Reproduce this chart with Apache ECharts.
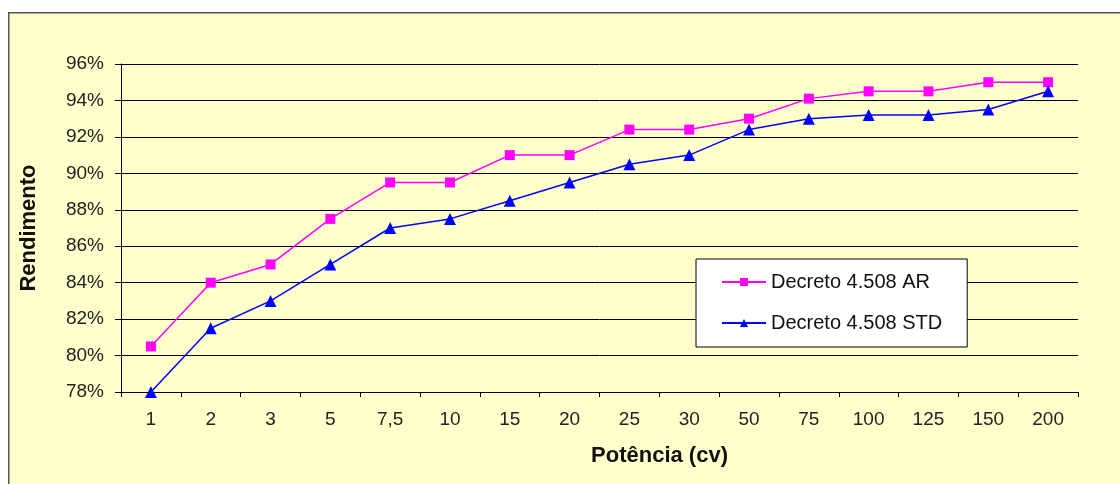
<!DOCTYPE html>
<html><head><meta charset="utf-8">
<script src="https://cdn.jsdelivr.net/npm/echarts@6/dist/echarts.min.js"></script>
<style>html,body{margin:0;padding:0;background:#fff}#c{width:1120px;height:484px}</style>
</head><body><div id="c"></div>
<script>
const categories = ['1','2','3','5','7,5','10','15','20','25','30','50','75','100','125','150','200'];
const seriesAR = [80.5,84,85,87.5,89.5,89.5,91,91,92.4,92.4,93,94.1,94.5,94.5,95,95];
const seriesSTD = [78,81.5,83,85,87,87.5,88.5,89.5,90.5,91,92.4,93,93.2,93.2,93.5,94.5];
const seriesNames = ['Decreto 4.508 AR','Decreto 4.508 STD'];
const yTicks = {min:78, max:96, interval:2};

const chart = echarts.init(document.getElementById('c'), null, {renderer:'canvas'});
const font = 'Liberation Sans, Arial, sans-serif';
chart.setOption({
  backgroundColor:'#fff',
  animation:false,
  graphic:[{type:'rect', left:8, top:12, shape:{width:1130,height:490}, style:{fill:'#FFFFCC', stroke:'#555', lineWidth:1.5}, z:-10}],
  grid:{left:121, right:42, top:64, bottom:92, containLabel:false},
  legend:{
    orient:'vertical', left:696, top:259,
    backgroundColor:'#fff', borderColor:'#000', borderWidth:1,
    padding:[13,25,14,25], itemGap:21, itemWidth:44, itemHeight:10,
    textStyle:{fontFamily:font, fontSize:20, color:'#111'},
    data:seriesNames
  },
  xAxis:{
    type:'category', data:categories, boundaryGap:true,
    name:'Potência (cv)', nameLocation:'middle', nameGap:53,
    nameTextStyle:{fontFamily:font, fontSize:22, fontWeight:'bold', color:'#111', padding:[0,0,0,120]},
    axisLine:{lineStyle:{color:'#000', width:1}},
    axisTick:{show:true, alignWithLabel:false, length:5, lineStyle:{color:'#000'}},
    axisLabel:{fontFamily:font, fontSize:19, color:'#222', margin:18, interval:0},
    splitLine:{show:false}
  },
  yAxis:{
    type:'value', min:yTicks.min, max:yTicks.max, interval:yTicks.interval,
    name:'Rendimento', nameLocation:'middle', nameGap:81, nameRotate:90,
    nameTextStyle:{fontFamily:font, fontSize:22, fontWeight:'bold', color:'#111'},
    axisLine:{show:true, lineStyle:{color:'#000', width:1}},
    axisTick:{show:true, length:6, lineStyle:{color:'#000'}},
    axisLabel:{fontFamily:font, fontSize:19, color:'#222', margin:17, formatter:v=>v+'%'},
    splitLine:{show:true, lineStyle:{color:'#000', width:1}}
  },
  series:[
    {name:seriesNames[0], type:'line', data:seriesAR, symbol:'rect', symbolSize:10,
     itemStyle:{color:'#FF00FF'}, lineStyle:{color:'#FF00FF', width:1.5}},
    {name:seriesNames[1], type:'line', data:seriesSTD, symbol:'triangle', symbolSize:12,
     itemStyle:{color:'#0000FF'}, lineStyle:{color:'#0000FF', width:1.5}}
  ]
});
</script></body></html>
